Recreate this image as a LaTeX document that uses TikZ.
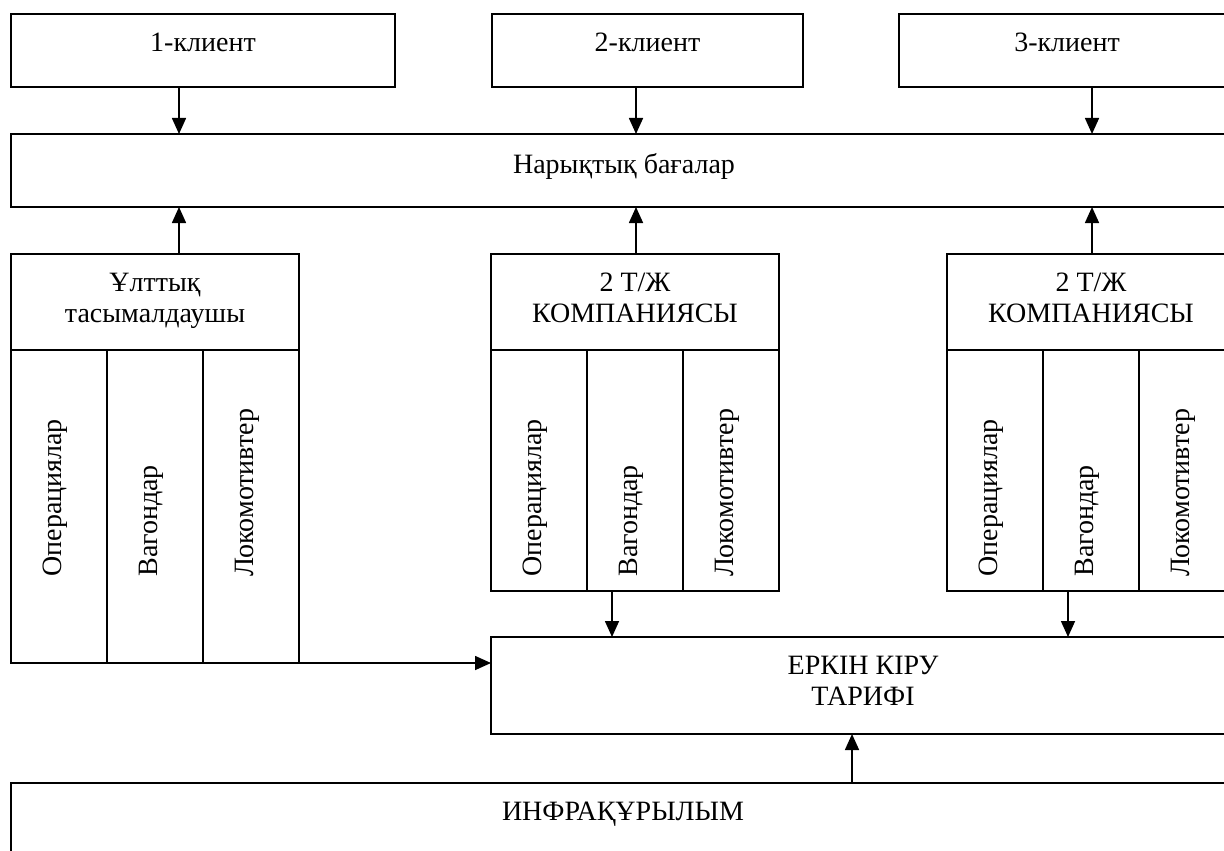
\documentclass[tikz,border=0pt]{standalone}
\usepackage{fontspec}
\setmainfont{Liberation Serif}
\usepackage{tikz}
\usetikzlibrary{arrows.meta, positioning}

\tikzset{
    box/.style={draw, line width=0.9pt, inner sep=0pt, outer sep=0pt},
    txt/.style={inner sep=0pt, align=center, font=\fontsize{14pt}{15.5pt}\selectfont},
    vtxt/.style={inner sep=0pt, rotate=90, anchor=base west, font=\fontsize{14pt}{15.5pt}\selectfont},
    arr/.style={-{Triangle[length=8pt,width=7pt]}, line width=0.8pt}
}

\begin{document}
\begin{tikzpicture}[x=0.5pt, y=-0.5pt]
    \useasboundingbox (0,0) rectangle (1224,850);
    \clip (0,0) rectangle (1224,850);

    % клиенттер
    \node[box, minimum width=192pt, minimum height=36.5pt] (cl1) at (203,50.5) {};
    \node[box, minimum width=155.5pt, minimum height=36.5pt] (cl2) at (647.5,50.5) {};
    \node[box, minimum width=168pt, minimum height=36.5pt] (cl3) at (1067,50.5) {};
    \node[txt, below=9.5pt of cl1.north] (t1) {1-клиент};
    \node[txt, below=9.5pt of cl2.north] (t2) {2-клиент};
    \node[txt, below=9.5pt of cl3.north] (t3) {3-клиент};

    % нарықтық бағалар
    \node[box, minimum width=613pt, minimum height=36.5pt] (market) at (624,170.5) {};
    \node[txt, below=9.5pt of market.north] (tm) {Нарықтық бағалар};

    % ұлттық тасымалдаушы
    \node[box, minimum width=144pt, minimum height=48pt] (nat) at (155,302) {};
    \node[txt, below=9.5pt of nat.north] (tn) {Ұлттық\\тасымалдаушы};
    \node[box, minimum width=48pt, minimum height=156.5pt] (op1) at (59,506.5) {};
    \node[box, minimum width=48pt, minimum height=156.5pt] (wag1) at (155,506.5) {};
    \node[box, minimum width=48pt, minimum height=156.5pt] (loc1) at (251,506.5) {};
    \node[vtxt] (top1) at (61,577) {Операциялар};
    \node[vtxt] (twag1) at (157,577) {Вагондар};
    \node[vtxt] (tloc1) at (253,577) {Локомотивтер};

    % екінші компания
    \node[box, minimum width=144pt, minimum height=48pt] (co2) at (635,302) {};
    \node[txt, below=9.5pt of co2.north] (tc2) {2 Т/Ж\\КОМПАНИЯСЫ};
    \node[box, minimum width=48pt, minimum height=120.5pt] (op2) at (539,470.5) {};
    \node[box, minimum width=48pt, minimum height=120.5pt] (wag2) at (635,470.5) {};
    \node[box, minimum width=48pt, minimum height=120.5pt] (loc2) at (731,470.5) {};
    \node[vtxt] (top2) at (541,577) {Операциялар};
    \node[vtxt] (twag2) at (637,577) {Вагондар};
    \node[vtxt] (tloc2) at (733,577) {Локомотивтер};

    % үшінші компания
    \node[box, minimum width=144pt, minimum height=48pt] (co3) at (1091,302) {};
    \node[txt, below=9.5pt of co3.north] (tc3) {2 Т/Ж\\КОМПАНИЯСЫ};
    \node[box, minimum width=48pt, minimum height=120.5pt] (op3) at (995,470.5) {};
    \node[box, minimum width=48pt, minimum height=120.5pt] (wag3) at (1091,470.5) {};
    \node[box, minimum width=48pt, minimum height=120.5pt] (loc3) at (1187,470.5) {};
    \node[vtxt] (top3) at (997,577) {Операциялар};
    \node[vtxt] (twag3) at (1093,577) {Вагондар};
    \node[vtxt] (tloc3) at (1189,577) {Локомотивтер};

    % тариф және инфрақұрылым
    \node[box, minimum width=372pt, minimum height=48.5pt] (tariff) at (863,685.5) {};
    \node[txt, below=9.5pt of tariff.north] (tt) {ЕРКІН КІРУ\\ТАРИФІ};
    \node[box, minimum width=612pt, minimum height=50pt] (infra) at (623,833) {};
    \node[txt, below=9.5pt of infra.north] (ti) {ИНФРАҚҰРЫЛЫМ};

    % бағыттамалар
    \coordinate (a1) at (179,0);
    \coordinate (a2) at (636,0);
    \coordinate (a3) at (1092,0);
    \coordinate (w2) at (612,0);
    \coordinate (w3) at (1068,0);
    \coordinate (a4) at (852,0);
    \draw[arr] (cl1.south -| a1) -- (market.north -| a1);
    \draw[arr] (cl2.south -| a2) -- (market.north -| a2);
    \draw[arr] (cl3.south -| a3) -- (market.north -| a3);
    \draw[arr] (nat.north -| a1) -- (market.south -| a1);
    \draw[arr] (co2.north -| a2) -- (market.south -| a2);
    \draw[arr] (co3.north -| a3) -- (market.south -| a3);
    \draw[arr] (wag2.south -| w2) -- (tariff.north -| w2);
    \draw[arr] (wag3.south -| w3) -- (tariff.north -| w3);
    \draw[arr] (loc1.south east) -- (tariff.west |- loc1.south east);
    \draw[arr] (infra.north -| a4) -- (tariff.south -| a4);
\end{tikzpicture}
\end{document}
